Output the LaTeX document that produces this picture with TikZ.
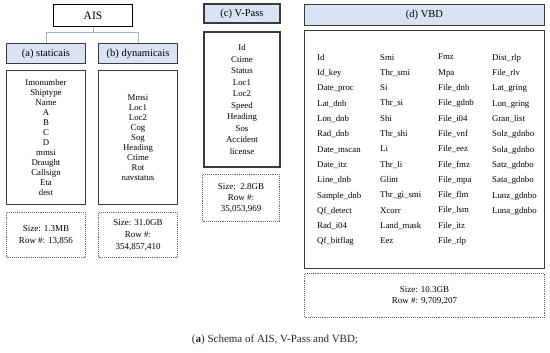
\documentclass[tikz,border=0pt]{standalone}
\usepackage{fontspec}
\setmainfont{Liberation Serif}
\usetikzlibrary{positioning}
\definecolor{headfill}{HTML}{DAE3F3}
\definecolor{linkblue}{HTML}{9FB4D6}
\definecolor{boxgray}{HTML}{3A3A3A}
\definecolor{dotgray}{HTML}{6A6A6A}

\begin{document}
\begin{tikzpicture}[x=1pt, y=-1pt, every node/.style={inner sep=0pt, font=\fontsize{8.8}{10}\selectfont},
  aisbox/.style={draw=black, line width=0.9pt, minimum width=79pt, minimum height=22pt, font=\fontsize{11.5}{13}\selectfont},
  headbox/.style={draw=boxgray, line width=1.5pt, fill=headfill, minimum height=20pt, font=\fontsize{10.5}{12}\selectfont},
  fieldbox/.style={draw=boxgray, line width=1.3pt, align=center},
  sizebox/.style={draw=dotgray, densely dotted, line width=0.9pt, align=center, font=\fontsize{9}{12}\selectfont},
  vbdcol/.style={anchor=north west, align=left, font=\fontsize{8.8}{15.3}\selectfont},
  link/.style={draw=linkblue, line width=0.9pt}]
  \useasboundingbox (0,0) rectangle (550,353);

  % AIS tree
  \node[aisbox] (ais) at (93,15.5) {AIS};
  \node[headbox, minimum width=79pt] (sta) at (46,53.5) {(a) staticais};
  \node[headbox, minimum width=79pt] (dyn) at (138,53.5) {(b) dynamicais};
  \draw[link] (ais.south) -- ++(0,6) -| (sta.north);
  \draw[link] (ais.south) -- ++(0,6) -| (dyn.north);

  \node[fieldbox, minimum width=79pt, minimum height=134pt] (stafields) at (46,137.5)
    {Imonumber\\Shiptype\\Name\\A\\B\\C\\D\\mmsi\\Draught\\Callsign\\Eta\\dest};
  \node[fieldbox, minimum width=79pt, minimum height=134pt] (dynfields) at (138,137.5)
    {Mmsi\\Loc1\\Loc2\\Cog\\Sog\\Heading\\Ctime\\Rot\\navstatus};
  \node[sizebox, minimum width=79pt, minimum height=45pt] (stasize) at (46,235)
    {Size: 1.3MB\\Row \#: 13,856};
  \node[sizebox, minimum width=79pt, minimum height=45pt] (dynsize) at (138,235)
    {Size: 31.0GB\\Row \#:\\354,857,410};

  % V-Pass
  \node[headbox, minimum width=76pt, minimum height=19pt] (vpass) at (242,13.5) {(c) V-Pass};
  \node[fieldbox, minimum width=76pt, minimum height=135pt, font=\fontsize{8.8}{11.5}\selectfont] (vpfields) at (242,99.5)
    {Id\\Ctime\\Status\\Loc1\\Loc2\\Speed\\Heading\\Sos\\Accident\\license};
  \node[sizebox, minimum width=77pt, minimum height=47pt, font=\fontsize{9}{11}\selectfont] (vpsize) at (241,198)
    {Size:\, 2.8GB\\Row \#:\\35,053,969};

  % VBD
  \node[headbox, minimum width=240pt, minimum height=21pt] (vbd) at (424.5,15) {(d) VBD};
  \node[fieldbox, minimum width=240pt, minimum height=238pt] (vbdfields) at (424.5,149.5) {};
  \node[vbdcol] (col1) at (317,54)
    {Id\\Id\_key\\Date\_proc\\Lat\_dnb\\Lon\_dnb\\Rad\_dnb\\Date\_mscan\\Date\_itz\\Line\_dnb\\Sample\_dnb\\Qf\_detect\\Rad\_i04\\Qf\_bitflag};
  \node[vbdcol] (col2) at (380,54)
    {Smi\\Thr\_smi\\Si\\Thr\_si\\Shi\\Thr\_shi\\Li\\Thr\_li\\Glint\\Thr\_gi\_smi\\Xcorr\\Land\_mask\\Eez};
  \node[vbdcol] (col3) at (438,54)
    {Fmz\\Mpa\\File\_dnb\\File\_gdnb\\File\_i04\\File\_vnf\\File\_eez\\File\_fmz\\File\_mpa\\File\_flm\\File\_lsm\\File\_itz\\File\_rlp};
  \node[vbdcol] (col4) at (492,54)
    {Dist\_rlp\\File\_rlv\\Lat\_gring\\Lon\_gring\\Gran\_list\\Solz\_gdnbo\\Sola\_gdnbo\\Satz\_gdnbo\\Sata\_gdnbo\\Lunz\_gdnbo\\Luna\_gdnbo};
  \node[sizebox, minimum width=240pt, minimum height=44pt, font=\fontsize{9}{11}\selectfont] (vbdsize) at (424.5,295.5)
    {Size: 10.3GB\\Row \#: 9,709,207};

  \node[font=\fontsize{11}{13}\selectfont, text=black!85] (caption) at (275,340)
    {(\textbf{a}) Schema of AIS, V-Pass and VBD;};
\end{tikzpicture}
\end{document}
